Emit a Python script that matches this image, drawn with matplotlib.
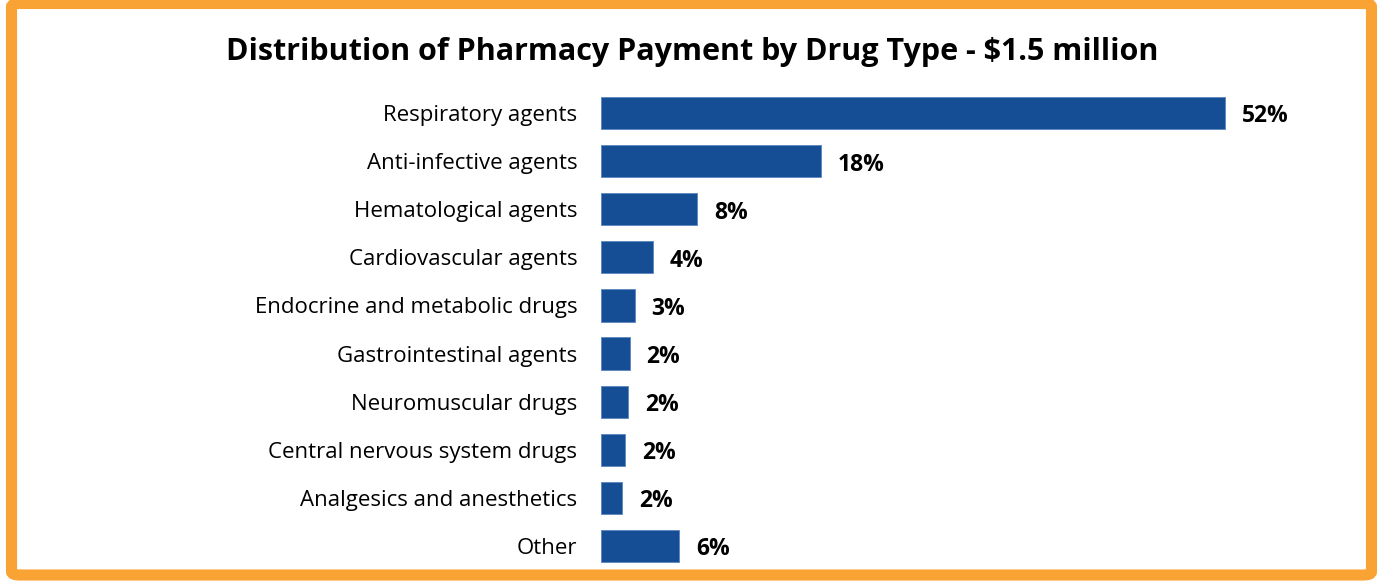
import matplotlib.pyplot as plt
from matplotlib.patches import FancyBboxPatch

categories = ["Respiratory agents", "Anti-infective agents", "Hematological agents",
              "Cardiovascular agents", "Endocrine and metabolic drugs",
              "Gastrointestinal agents", "Neuromuscular drugs",
              "Central nervous system drugs", "Analgesics and anesthetics", "Other"]
values = [52, 18.3, 8.0, 4.3, 2.8, 2.4, 2.25, 2.0, 1.75, 6.5]
labels = ["52%", "18%", "8%", "4%", "3%", "2%", "2%", "2%", "2%", "6%"]

plt.rcParams['font.family'] = ['Open Sans', 'DejaVu Sans']

W, H = 1377, 583
fig = plt.figure(figsize=(W / 100, H / 100), dpi=100)

# orange frame
frame = FancyBboxPatch((11.5 / W, 8 / H), (1371.5 - 11.5) / W, (579.5 - 8) / H,
                       boxstyle="round,pad=0,rounding_size=0.006",
                       transform=fig.transFigure, facecolor='none',
                       edgecolor='#F9A334', linewidth=8.0, zorder=5)
fig.patches.append(frame)

ax = fig.add_axes([601 / W, 1 - 570 / H, 720 / W, 481 / H])
ax.set_facecolor('none')
y = range(len(categories))
ax.barh(y, values, height=0.67, color='#164E95', edgecolor='#5B86C0', linewidth=0.6)
for yi, v, lab in zip(y, values, labels):
    ax.text(v + 1.4, yi + 0.07, lab, va='center', ha='left', fontsize=16.5,
            fontweight='bold', color='black')

ax.set_xlim(0, 60)
ax.set_ylim(len(categories) - 0.5, -0.5)
ax.set_yticks(list(y))
ax.set_yticklabels(categories, fontsize=16)
ax.tick_params(axis='y', length=0, pad=17)
ax.set_xticks([])
for s in ax.spines.values():
    s.set_visible(False)

fig.text(692 / W, 1 - 52 / H, "Distribution of Pharmacy Payment by Drug Type - $1.5 million",
         ha='center', va='center', fontsize=22, fontweight='bold')

fig.savefig("out.png", dpi=100)
